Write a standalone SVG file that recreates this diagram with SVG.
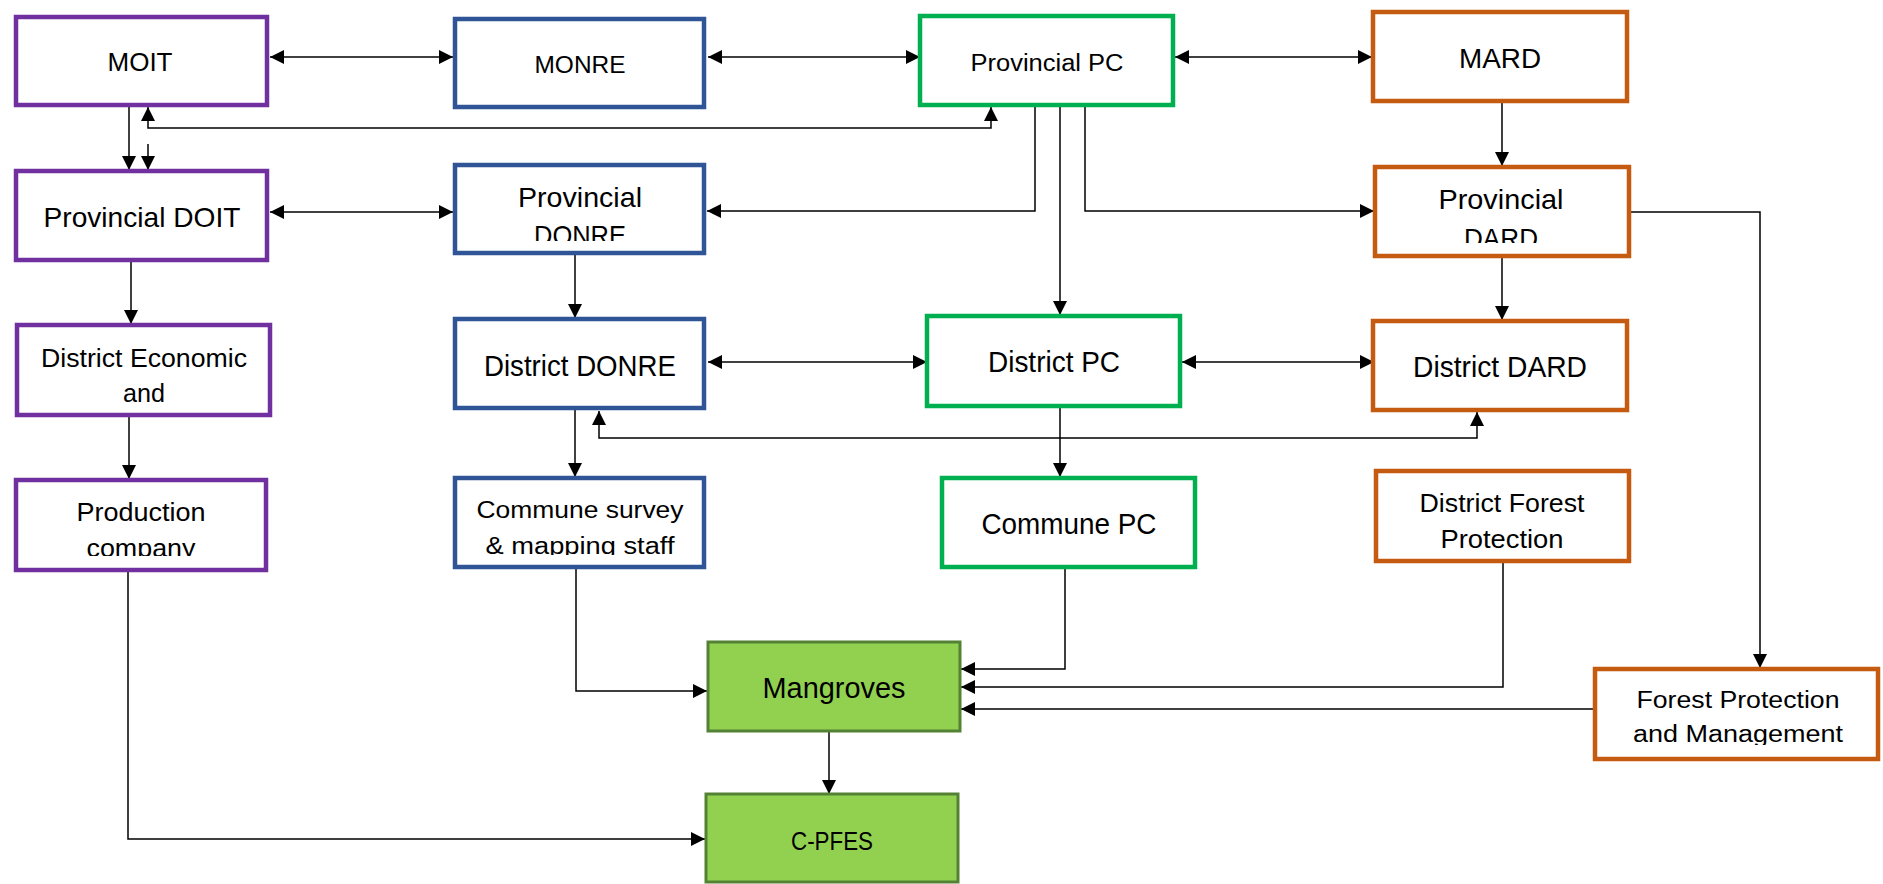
<svg xmlns="http://www.w3.org/2000/svg" width="1883" height="884" viewBox="0 0 1883 884">
<style>
.box{fill:#fff;stroke-width:4.5}
.pu{stroke:#7030A0}.bl{stroke:#2F5597}.gr{stroke:#00B050}.or{stroke:#C55A11}
.lg{fill:#92D050;stroke:#548235;stroke-width:3}
text{font-family:"Liberation Sans",Arial,sans-serif;fill:#000;text-anchor:middle}
.ln{fill:none;stroke:#000;stroke-width:1.5}
.e{marker-end:url(#ah)}
.d{marker-start:url(#ah);marker-end:url(#ah)}
</style>
<defs>
<marker id="ah" markerUnits="userSpaceOnUse" markerWidth="14" markerHeight="14" viewBox="0 0 14 14" refX="14" refY="7" orient="auto-start-reverse"><path d="M0,0 L14,7 L0,14 z" fill="#000"/></marker>
<clipPath id="cpDonre"><rect x="455" y="165" width="249" height="76"/></clipPath>
<clipPath id="cpDard"><rect x="1375" y="167" width="254" height="76"/></clipPath>
<clipPath id="cpProd"><rect x="16" y="480" width="250" height="76"/></clipPath>
<clipPath id="cpCs"><rect x="455" y="478" width="249" height="77"/></clipPath>
<clipPath id="cpFpm"><rect x="1595" y="669" width="283" height="76"/></clipPath>
</defs>
<rect width="1883" height="884" fill="#fff"/>
<g id="connectors">
<path class="ln d" d="M270,57 H453"/>
<path class="ln d" d="M708,57 H920"/>
<path class="ln d" d="M1175,57 H1372"/>
<path class="ln e" d="M129,107 V170"/>
<path class="ln d" d="M148,107 V128 H991 V107"/>
<path class="ln e" d="M148,144 V170"/>
<path class="ln d" d="M270,212 H453"/>
<path class="ln e" d="M1035,107 V211 H707"/>
<path class="ln e" d="M1060,107 V315"/>
<path class="ln e" d="M1085,107 V211 H1374"/>
<path class="ln e" d="M1502,103 V166"/>
<path class="ln e" d="M1631,212 H1760 V668"/>
<path class="ln e" d="M131,262 V324"/>
<path class="ln e" d="M575,255 V318"/>
<path class="ln d" d="M708,362 H927"/>
<path class="ln d" d="M1182,362 H1374"/>
<path class="ln e" d="M1502,258 V320"/>
<path class="ln d" d="M599,411 V438 H1477 V412"/>
<path class="ln e" d="M129,417 V479"/>
<path class="ln e" d="M575,410 V477"/>
<path class="ln e" d="M1060,408 V477"/>
<path class="ln e" d="M128,570 V839 H705"/>
<path class="ln e" d="M576,569 V691 H707"/>
<path class="ln e" d="M1065,558 V669 H961"/>
<path class="ln e" d="M1503,563 V687 H961"/>
<path class="ln e" d="M1594,709 H961"/>
<path class="ln e" d="M829,732 V794"/>
</g>
<g id="moit"><rect class="box pu" x="16" y="17" width="251" height="88"/><text x="140" y="71" font-size="25" textLength="65" lengthAdjust="spacingAndGlyphs">MOIT</text></g>
<g id="monre"><rect class="box bl" x="455" y="19" width="249" height="88"/><text x="580" y="73" font-size="24.7" textLength="91" lengthAdjust="spacingAndGlyphs">MONRE</text></g>
<g id="provincial-pc"><rect class="box gr" x="920" y="16" width="253" height="89"/><text x="1047" y="71" font-size="24.7" textLength="153" lengthAdjust="spacingAndGlyphs">Provincial PC</text></g>
<g id="mard"><rect class="box or" x="1373" y="12" width="254" height="89"/><text x="1500" y="68" font-size="28" textLength="82" lengthAdjust="spacingAndGlyphs">MARD</text></g>
<g id="provincial-doit"><rect class="box pu" x="16" y="171" width="251" height="89"/><text x="142" y="227" font-size="28" textLength="197" lengthAdjust="spacingAndGlyphs">Provincial DOIT</text></g>
<g id="provincial-donre"><rect class="box bl" x="455" y="165" width="249" height="88"/><g clip-path="url(#cpDonre)"><text x="580" y="207" font-size="28" textLength="124" lengthAdjust="spacingAndGlyphs">Provincial</text><text x="580" y="245" font-size="28" textLength="92" lengthAdjust="spacingAndGlyphs">DONRE</text></g></g>
<g id="provincial-dard"><rect class="box or" x="1375" y="167" width="254" height="89"/><g clip-path="url(#cpDard)"><text x="1501" y="209" font-size="28" textLength="125" lengthAdjust="spacingAndGlyphs">Provincial</text><text x="1501" y="248" font-size="28" textLength="74" lengthAdjust="spacingAndGlyphs">DARD</text></g></g>
<g id="district-economic"><rect class="box pu" x="17" y="325" width="253" height="90"/><text x="144" y="367" font-size="25.6" textLength="206" lengthAdjust="spacingAndGlyphs">District Economic</text><text x="144" y="402" font-size="25.6" textLength="42" lengthAdjust="spacingAndGlyphs">and</text></g>
<g id="district-donre"><rect class="box bl" x="455" y="319" width="249" height="89"/><text x="580" y="376" font-size="29" textLength="192" lengthAdjust="spacingAndGlyphs">District DONRE</text></g>
<g id="district-pc"><rect class="box gr" x="927" y="316" width="253" height="90"/><text x="1054" y="372" font-size="29" textLength="132" lengthAdjust="spacingAndGlyphs">District PC</text></g>
<g id="district-dard"><rect class="box or" x="1373" y="321" width="254" height="89"/><text x="1500" y="377" font-size="29" textLength="174" lengthAdjust="spacingAndGlyphs">District DARD</text></g>
<g id="production-company"><rect class="box pu" x="16" y="480" width="250" height="90"/><g clip-path="url(#cpProd)"><text x="141" y="521" font-size="25" textLength="129" lengthAdjust="spacingAndGlyphs">Production</text><text x="141" y="557" font-size="25" textLength="109" lengthAdjust="spacingAndGlyphs">company</text></g></g>
<g id="commune-survey"><rect class="box bl" x="455" y="478" width="249" height="89"/><g clip-path="url(#cpCs)"><text x="580" y="518" font-size="24.7" textLength="207" lengthAdjust="spacingAndGlyphs">Commune survey</text><text x="580" y="554" font-size="24.7" textLength="189" lengthAdjust="spacingAndGlyphs">&amp; mapping staff</text></g></g>
<g id="commune-pc"><rect class="box gr" x="942" y="478" width="253" height="89"/><text x="1069" y="534" font-size="29" textLength="175" lengthAdjust="spacingAndGlyphs">Commune PC</text></g>
<g id="district-forest-protection"><rect class="box or" x="1376" y="471" width="253" height="90"/><text x="1502" y="512" font-size="25.6" textLength="165" lengthAdjust="spacingAndGlyphs">District Forest</text><text x="1502" y="548" font-size="25.6" textLength="123" lengthAdjust="spacingAndGlyphs">Protection</text></g>
<g id="mangroves"><rect class="lg" x="708" y="642" width="252" height="89"/><text x="834" y="698" font-size="29" textLength="143" lengthAdjust="spacingAndGlyphs">Mangroves</text></g>
<g id="c-pfes"><rect class="lg" x="706" y="794" width="252" height="88"/><text x="832" y="850" font-size="25.6" textLength="82" lengthAdjust="spacingAndGlyphs">C-PFES</text></g>
<g id="forest-protection-management"><rect class="box or" x="1595" y="669" width="283" height="90"/><g clip-path="url(#cpFpm)"><text x="1738" y="708" font-size="24.7" textLength="203" lengthAdjust="spacingAndGlyphs">Forest Protection</text><text x="1738" y="742" font-size="24.7" textLength="210" lengthAdjust="spacingAndGlyphs">and Management</text></g></g>
</svg>
